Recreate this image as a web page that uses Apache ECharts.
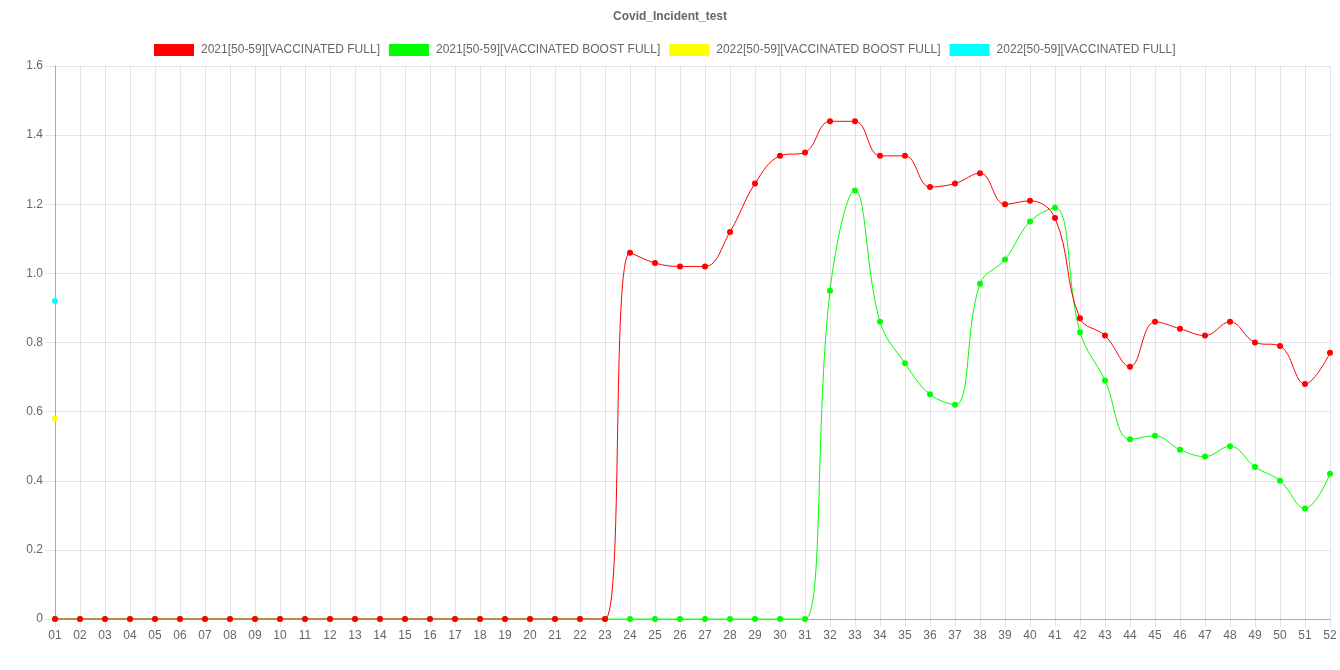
<!DOCTYPE html>
<html>
<head>
<meta charset="utf-8">
<script src="https://cdn.jsdelivr.net/npm/echarts@6/dist/echarts.min.js"></script>
<style>html,body{margin:0;padding:0;background:#fff;}#c{width:1340px;height:670px;}</style>
</head>
<body>
<div id="c"></div>
<script>
const weeks = Array.from({length: 52}, (_, i) => String(i + 1).padStart(2, '0'));
const yTicks = [0, 0.2, 0.4, 0.6, 0.8, 1.0, 1.2, 1.4, 1.6];
const seriesNames = ['2021[50-59][VACCINATED FULL]', '2021[50-59][VACCINATED BOOST FULL]', '2022[50-59][VACCINATED BOOST FULL]', '2022[50-59][VACCINATED FULL]'];
const seriesColors = ['#ff0000', '#00ff00', '#ffff00', '#00ffff'];
const full2021 = [0,0,0,0,0,0,0,0,0,0,0,0,0,0,0,0,0,0,0,0,0,0,0,
  1.06,1.03,1.02,1.02,1.12,1.26,1.34,1.35,1.44,1.44,1.34,1.34,1.25,1.26,1.29,1.20,1.21,1.16,
  0.87,0.82,0.73,0.86,0.84,0.82,0.86,0.80,0.79,0.68,0.77];
const boost2021 = [0,0,0,0,0,0,0,0,0,0,0,0,0,0,0,0,0,0,0,0,0,0,0,0,0,0,0,0,0,0,0,
  0.95,1.24,0.86,0.74,0.65,0.62,0.97,1.04,1.15,1.19,0.83,0.69,0.52,0.53,0.49,0.47,0.50,0.44,0.40,0.32,0.42];
const boost2022 = [0.58];
const full2022 = [0.92];

const dataSets = [full2021, boost2021, boost2022, full2022];
const txt = '#666';
const font = 'Liberation Sans, Arial, sans-serif';
const chart = echarts.init(document.getElementById('c'));
chart.setOption({
  animation: false,
  title: {text: 'Covid_Incident_test', left: 'center', top: 6,
    textStyle: {color: txt, fontSize: 12, fontWeight: 'bold', fontFamily: font}},
  legend: {top: 39, left: 149, itemWidth: 40, itemHeight: 12, itemGap: 9,
    icon: 'rect', textStyle: {color: txt, fontSize: 12, fontFamily: font, padding: [0, 0, 0, 2]},
    data: seriesNames},
  grid: {left: 55, right: 10, top: 66, bottom: 51, containLabel: false},
  xAxis: {type: 'category', data: weeks, boundaryGap: false,
    axisLine: {lineStyle: {color: 'rgba(0,0,0,0.25)'}},
    axisTick: {show: true, length: 8, lineStyle: {color: 'rgba(0,0,0,0.1)'}},
    axisLabel: {color: txt, fontSize: 12, fontFamily: font, interval: 0, margin: 11},
    splitLine: {show: true, lineStyle: {color: 'rgba(0,0,0,0.1)'}}},
  yAxis: {type: 'value', min: 0, max: 1.6, interval: 0.2,
    axisLine: {show: true, lineStyle: {color: 'rgba(0,0,0,0.25)'}},
    axisTick: {show: true, length: 10, lineStyle: {color: 'rgba(0,0,0,0.1)'}},
    axisLabel: {color: txt, fontSize: 12, fontFamily: font, margin: 12,
      formatter: v => v === 0 ? '0' : v.toFixed(1)},
    splitLine: {show: true, lineStyle: {color: 'rgba(0,0,0,0.1)'}}},
  series: dataSets.map((d, i) => ({
    name: seriesNames[i], type: 'line', data: d, smooth: 0.4,
    symbol: 'circle', symbolSize: 6, showSymbol: true, showAllSymbol: true,
    z: 10 - i,
    itemStyle: {color: seriesColors[i]},
    lineStyle: {color: seriesColors[i], width: 1}
  }))
});
</script>
</body>
</html>
